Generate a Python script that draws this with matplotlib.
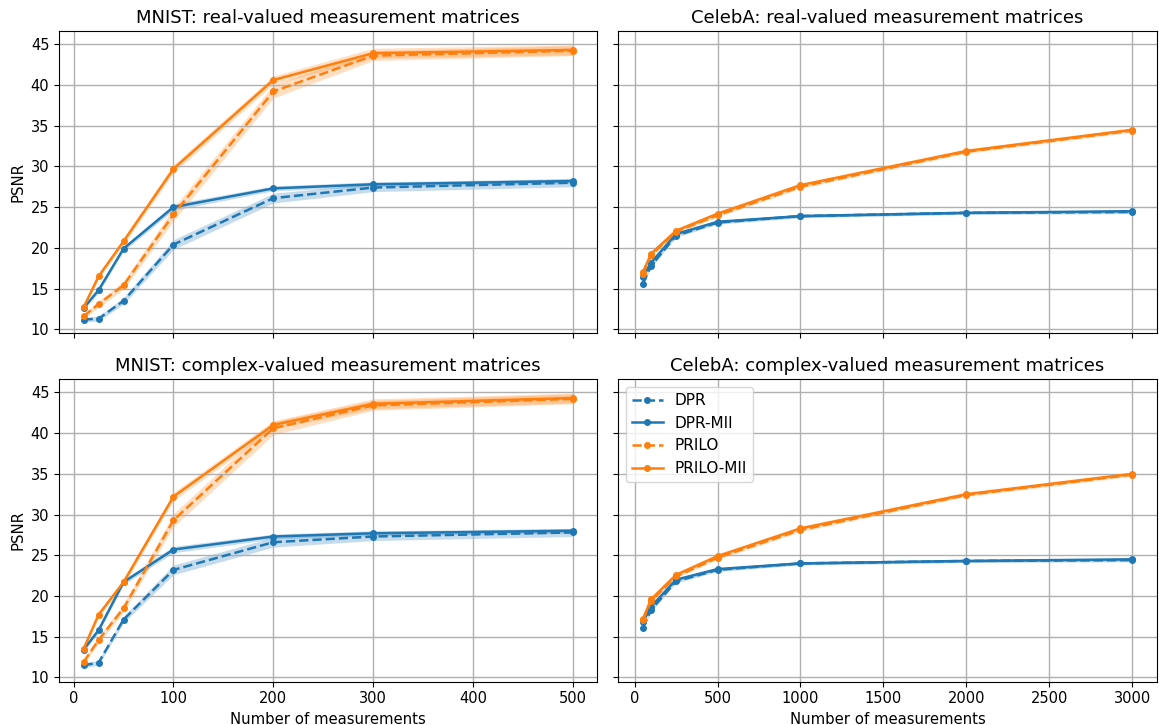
import numpy as np
import matplotlib.pyplot as plt

# measurement counts
m_mnist = [10, 25, 50, 100, 200, 300, 500]
m_celeba = [50, 100, 250, 500, 1000, 2000, 3000]

# MNIST, real-valued
mnist_real_dpr = [11.2, 11.3, 13.5, 20.4, 26.1, 27.4, 28.0]
mnist_real_dpr_mii = [12.6, 14.8, 19.9, 25.0, 27.3, 27.8, 28.2]
mnist_real_prilo = [11.6, 13.1, 15.4, 24.1, 39.2, 43.6, 44.2]
mnist_real_prilo_mii = [12.7, 16.5, 20.8, 29.7, 40.6, 43.9, 44.3]

# MNIST, complex-valued
mnist_cplx_dpr = [11.5, 11.8, 17.1, 23.2, 26.6, 27.3, 27.8]
mnist_cplx_dpr_mii = [13.4, 15.8, 21.7, 25.7, 27.3, 27.7, 28.0]
mnist_cplx_prilo = [11.9, 14.6, 18.5, 29.3, 40.6, 43.4, 44.2]
mnist_cplx_prilo_mii = [13.5, 17.7, 21.7, 32.2, 41.0, 43.6, 44.3]

# CelebA, real-valued
celeba_real_dpr = [15.6, 17.8, 21.5, 23.1, 23.9, 24.3, 24.4]
celeba_real_dpr_mii = [16.4, 18.2, 21.7, 23.2, 23.9, 24.3, 24.5]
celeba_real_prilo = [16.8, 19.1, 22.0, 24.0, 27.5, 31.8, 34.4]
celeba_real_prilo_mii = [17.0, 19.3, 22.1, 24.2, 27.7, 31.9, 34.5]

# CelebA, complex-valued
celeba_cplx_dpr = [16.1, 18.3, 21.8, 23.2, 24.0, 24.3, 24.4]
celeba_cplx_dpr_mii = [16.8, 18.7, 22.0, 23.3, 24.0, 24.3, 24.5]
celeba_cplx_prilo = [17.0, 19.4, 22.4, 24.7, 28.1, 32.4, 34.9]
celeba_cplx_prilo_mii = [17.2, 19.6, 22.6, 24.9, 28.3, 32.5, 35.0]

# spread of the shaded bands (std over runs)
std_mnist = {
    'DPR': [0.3, 0.3, 0.4, 0.6, 0.6, 0.5, 0.5],
    'DPR-MII': [0.2, 0.3, 0.3, 0.4, 0.3, 0.3, 0.3],
    'PRILO': [0.3, 0.4, 0.5, 0.8, 0.8, 0.6, 0.6],
    'PRILO-MII': [0.2, 0.3, 0.4, 0.5, 0.5, 0.6, 0.6],
}
std_celeba = {
    'DPR': [0.2, 0.2, 0.2, 0.2, 0.2, 0.2, 0.2],
    'DPR-MII': [0.15, 0.15, 0.15, 0.15, 0.15, 0.15, 0.15],
    'PRILO': [0.2, 0.2, 0.2, 0.2, 0.2, 0.2, 0.2],
    'PRILO-MII': [0.15, 0.15, 0.15, 0.15, 0.15, 0.15, 0.15],
}

styles = {
    'DPR': ('C0', '--'),
    'DPR-MII': ('C0', '-'),
    'PRILO': ('C1', '--'),
    'PRILO-MII': ('C1', '-'),
}

panels = [
    ('MNIST: real-valued measurement matrices', m_mnist, std_mnist,
     [mnist_real_dpr, mnist_real_dpr_mii, mnist_real_prilo, mnist_real_prilo_mii]),
    ('CelebA: real-valued measurement matrices', m_celeba, std_celeba,
     [celeba_real_dpr, celeba_real_dpr_mii, celeba_real_prilo, celeba_real_prilo_mii]),
    ('MNIST: complex-valued measurement matrices', m_mnist, std_mnist,
     [mnist_cplx_dpr, mnist_cplx_dpr_mii, mnist_cplx_prilo, mnist_cplx_prilo_mii]),
    ('CelebA: complex-valued measurement matrices', m_celeba, std_celeba,
     [celeba_cplx_dpr, celeba_cplx_dpr_mii, celeba_cplx_prilo, celeba_cplx_prilo_mii]),
]

fig, axes = plt.subplots(2, 2, sharex='col', sharey=True, figsize=(11.59, 7.25), dpi=100)

for ax, (title, xs, stds, series) in zip(axes.flat, panels):
    for name, ys in zip(styles.keys(), series):
        color, ls = styles[name]
        ys = np.array(ys)
        sd = np.array(stds[name])
        ax.plot(xs, ys, color=color, linestyle=ls, marker='o', markersize=4,
                linewidth=1.8, label=name)
        ax.fill_between(xs, ys - sd, ys + sd, color=color, alpha=0.25, linewidth=0)
    ax.set_title(title, fontsize=13)
    ax.grid(True, color='#b0b0b0', linewidth=1.0)
    ax.tick_params(labelsize=10.5)

axes[0, 0].set_yticks([10, 15, 20, 25, 30, 35, 40, 45])
axes[0, 0].set_ylim(9.5, 46.6)
axes[0, 0].set_ylabel('PSNR', fontsize=10.7)
axes[1, 0].set_ylabel('PSNR', fontsize=10.7)
axes[1, 0].set_xlabel('Number of measurements', fontsize=10.7)
axes[1, 1].set_xlabel('Number of measurements', fontsize=10.7)
axes[1, 0].set_xticks([0, 100, 200, 300, 400, 500])
axes[1, 1].set_xticks([0, 500, 1000, 1500, 2000, 2500, 3000])
axes[1, 1].legend(loc='upper left', fontsize=11)

fig.subplots_adjust(left=0.051, right=0.998, top=0.957, bottom=0.06,
                    wspace=0.039, hspace=0.152)
fig.savefig('out.png', dpi=100)
